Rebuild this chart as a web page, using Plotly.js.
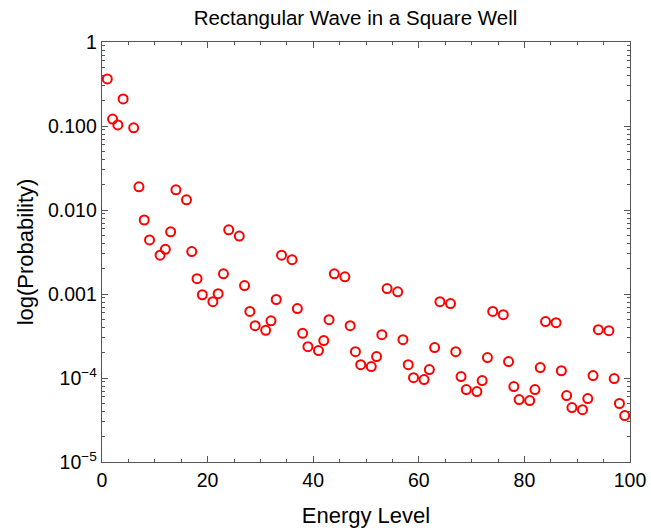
<!DOCTYPE html>
<html>
<head>
<meta charset="utf-8">
<script src="https://cdn.plot.ly/plotly-3.0.1.min.js"></script>
<style>html,body{margin:0;padding:0;background:#fff;}#chart{width:651px;height:531px;}</style>
</head>
<body>
<div id="chart"></div>
<script>
const energyLevels = [1,2,3,4,6,7,8,9,11,12,13,14,16,17,18,19,21,22,23,24,26,27,28,29,31,32,33,34,36,37,38,39,41,42,43,44,46,47,48,49,51,52,53,54,56,57,58,59,61,62,63,64,66,67,68,69,71,72,73,74,76,77,78,79,81,82,83,84,86,87,88,89,91,92,93,94,96,97,98,99];
const probabilities = [0.363,0.121,0.103,0.21,0.095,0.0189,0.0076,0.0044,0.0029,0.0034,0.0055,0.0174,0.0132,0.0032,0.00152,0.00098,0.00081,0.00101,0.00174,0.0058,0.0049,0.00126,0.00062,0.00042,0.00037,0.00048,0.00086,0.0029,0.00256,0.00067,0.00034,0.000236,0.000212,0.000279,0.000494,0.00174,0.0016,0.00042,0.000206,0.000144,0.000137,0.00018,0.000328,0.00116,0.00106,0.000286,0.000144,0.000101,0.0000957,0.000126,0.00023,0.00081,0.00077,0.000206,0.000104,0.0000728,0.0000689,0.0000931,0.000175,0.00062,0.000568,0.000157,0.000079,0.0000553,0.0000538,0.0000728,0.000133,0.000469,0.000456,0.000122,0.0000618,0.0000445,0.000042,0.0000569,0.000107,0.000376,0.000366,0.0000984,0.0000497,0.0000357];
const yTickVals = [1e-5,1e-4,1e-3,1e-2,1e-1,1];
const yTickText = ['10<sup>\u22125</sup>','10<sup>\u22124</sup>','0.001','0.010','0.100','1'];
const xTickVals = [0,20,40,60,80,100];

const yMinor = [];
for (let e = -5; e < 0; e++) for (let m = 2; m <= 9; m++) yMinor.push(m * Math.pow(10, e));
const xMinor = [];
for (let v = 5; v < 100; v += 5) if (v % 20 !== 0) xMinor.push(v);

const font = {family: '"Liberation Sans", Arial, Helvetica, sans-serif', color: '#000'};

Plotly.newPlot('chart', [{
  x: energyLevels, y: probabilities, type: 'scatter', mode: 'markers',
  marker: {symbol: 'circle-open', size: 9, color: '#ff0000', line: {width: 2, color: '#ff0000'}},
  hoverinfo: 'x+y'
}], {
  width: 651, height: 531,
  margin: {l: 102, r: 21, t: 42, b: 69, pad: 0},
  paper_bgcolor: '#fff', plot_bgcolor: '#fff',
  showlegend: false,
  font: Object.assign({size: 19}, font),
  title: {text: 'Rectangular Wave in a Square Well', font: Object.assign({size: 20.5}, font), x: 0.546, xanchor: 'center', y: 0.966, yanchor: 'middle'},
  xaxis: {
    range: [0, 100], showgrid: false, zeroline: false,
    showline: true, linecolor: '#555', linewidth: 1.3, mirror: 'ticks',
    ticks: 'inside', ticklen: 6, tickwidth: 1, tickcolor: '#555',
    tickmode: 'array', tickvals: xTickVals, ticktext: xTickVals.map(String),
    tickfont: Object.assign({size: 19.5}, font),
    minor: {tickmode: 'array', tickvals: xMinor, ticks: 'inside', ticklen: 3, tickcolor: '#555', showgrid: false},
    title: {text: 'Energy Level', font: Object.assign({size: 22}, font), standoff: 18}
  },
  yaxis: {
    type: 'log', range: [-5, 0], showgrid: false, zeroline: false,
    showline: true, linecolor: '#555', linewidth: 1.3, mirror: 'ticks',
    ticks: 'inside', ticklen: 6, tickwidth: 1, tickcolor: '#555',
    tickmode: 'array', tickvals: yTickVals, ticktext: yTickText,
    tickfont: Object.assign({size: 19.5}, font),
    minor: {tickmode: 'array', tickvals: yMinor, ticks: 'inside', ticklen: 3, tickcolor: '#555', showgrid: false},
    title: {text: 'log(Probability)', font: Object.assign({size: 22}, font), standoff: 8}
  }
}, {displayModeBar: false, staticPlot: true});
</script>
</body>
</html>
